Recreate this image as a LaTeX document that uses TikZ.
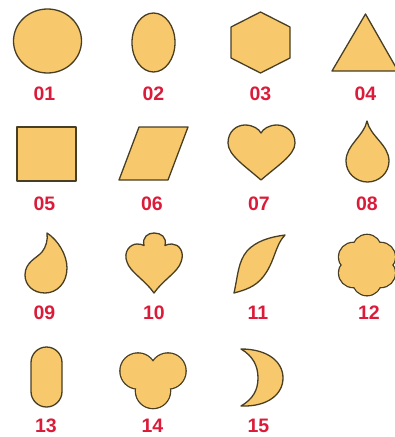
\documentclass[tikz,border=0pt]{standalone}
\usepackage{fontspec}
\setmainfont{Liberation Sans}
\definecolor{shapeFill}{RGB}{248,201,108}
\definecolor{shapeLine}{RGB}{72,62,36}
\definecolor{labRed}{RGB}{218,28,58}
\tikzset{
  form/.style={fill=shapeFill,draw=shapeLine,line width=1.3pt,line join=round},
  formback/.style={draw=shapeLine,line width=2.6pt},
  formfill/.style={fill=shapeFill},
  shapelab/.style={text=labRed,inner sep=0pt,font=\fontsize{19.5}{20}\selectfont\bfseries}
}
\begin{document}
\begin{tikzpicture}[x=1pt,y=-1pt]
  \clip (0,0) rectangle (395,437);
  % --- Numéros sous les formes ---
  \foreach \n/\cx/\cy in {01/44.5/94,02/153.5/94,03/260.5/94,04/365.5/94,%
                          05/44.5/203.5,06/152/203.5,07/259/203.5,08/367/203.5,%
                          09/44.5/312.5,10/154/312.5,11/258/312.5,12/369/312.5,%
                          13/46/426,14/152.5/426,15/258.5/426} {
    \node[shapelab] (lab\n) at (\cx,\cy) {\n};
  }
  % --- Rang 1 : cercle, ovale, hexagone, triangle ---
  \draw[form] (47.5,41) ellipse (34 and 32);
  \draw[form] (153.5,42.5) ellipse (21.5 and 29.5);
  \draw[form] (260.5,12) -- (290,27) -- (290,58) -- (260.5,73) -- (231,58) -- (231,27) -- cycle;
  \draw[form] (365.5,14) -- (398,71) -- (332,71) -- cycle;
  % --- Rang 2 : carré, parallélogramme, cœur, goutte ---
  \draw[form] (17,127) rectangle (76,181);
  \draw[form] (119,180) -- (168,180) -- (188,127) -- (139,127) -- cycle;
  \draw[form] (261,180) .. controls (245,166) and (228,155) .. (228,143)
    .. controls (228,131) and (237,125) .. (245,125)
    .. controls (253,125) and (259,129) .. (261,133)
    .. controls (263,129) and (269,125) .. (277,125)
    .. controls (285,125) and (295,131) .. (295,143)
    .. controls (295,155) and (277,166) .. (261,180) -- cycle;
  \draw[form] (367,121) .. controls (370,136) and (389,145) .. (389,161)
    .. controls (389,173) and (379,182) .. (367.5,182)
    .. controls (356,182) and (346,173) .. (346,161)
    .. controls (346,145) and (364,136) .. (367,121) -- cycle;
  % --- Rang 3 : flamme, trèfle, feuille, fleur ---
  \draw[form] (47,233) .. controls (58,240) and (67,255) .. (67,268)
    .. controls (67,283) and (57,293) .. (45,293)
    .. controls (33,293) and (25,285) .. (25,275)
    .. controls (25,262) and (37,258) .. (42,252)
    .. controls (46,247) and (48,240) .. (47,233) -- cycle;
  \draw[form] (154,293) .. controls (145,280) and (130,272) .. (127,262)
    .. controls (123,252) and (130,244) .. (137,244)
    .. controls (140,244) and (142,244.5) .. (144,245.5)
    .. controls (142,237) and (148,233) .. (154,233)
    .. controls (161,233) and (167,237) .. (165,245.5)
    .. controls (167,244.5) and (169,244) .. (172,244)
    .. controls (179,244) and (185,252) .. (181,262)
    .. controls (178,272) and (163,280) .. (154,293) -- cycle;
  \draw[form] (234,293) .. controls (238,275) and (238,262) .. (247,251)
    .. controls (256,241) and (270,237) .. (285,235)
    .. controls (275,245) and (275,262) .. (263,277)
    .. controls (255,287) and (245,290) .. (234,293) -- cycle;
  \foreach \a in {90,150,...,450}
    \draw[formback] (367,265) ++(\a:16) circle (14);
  \foreach \a in {90,150,...,450}
    \fill[formfill] (367,265) ++(\a:16) circle (14);
  \fill[formfill] (367,265) circle (17);
  % --- Rang 4 : gélule, trèfle rond, croissant ---
  \draw[form,rounded corners=15.5pt] (31,347) rectangle (62,407);
  \foreach \px/\py/\r in {138/371/17.5,168/371/17.5,153/391/17}
    \draw[formback] (\px,\py) circle (\r);
  \foreach \px/\py/\r in {138/371/17.5,168/371/17.5,153/391/17}
    \fill[formfill] (\px,\py) circle (\r);
  \draw[form] (241,349) .. controls (268,349) and (283,362) .. (283,378)
    .. controls (283,394) and (268,407) .. (241,406)
    .. controls (253,399) and (258,390) .. (258,378)
    .. controls (258,366) and (253,356) .. (241,349) -- cycle;
\end{tikzpicture}
\end{document}
